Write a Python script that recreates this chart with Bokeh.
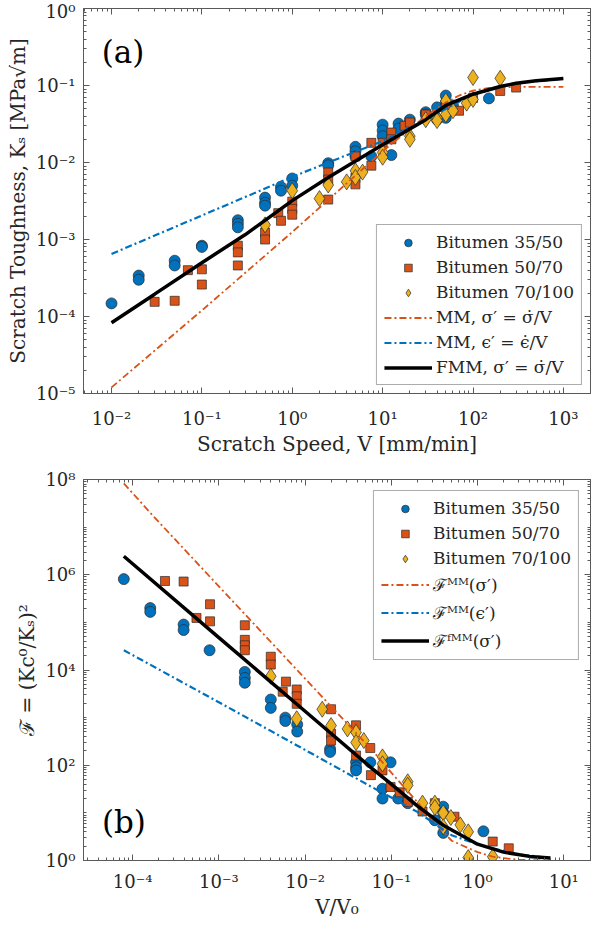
import json
from bokeh.plotting import figure
from bokeh.layouts import column
from bokeh.models import Range1d, LogAxis, FixedTicker, CustomJSTickFormatter, Label
from bokeh.embed import file_html
from bokeh.resources import INLINE

# ---------------- data: panel (a) ----------------
A_3550_X = [0.01, 0.02, 0.02, 0.05, 0.05, 0.1, 0.1, 0.25, 0.25, 0.25, 0.5, 0.5, 0.5, 0.75, 0.75,
            1, 1, 2.5, 2.5, 5, 5, 5, 7.5, 10, 10, 10, 12.5, 15, 15, 20, 30, 30, 40, 40, 50, 50, 50, 60, 150]
A_3550_Y = [1.48e-4, 3.4e-4, 3.0e-4, 5.3e-4, 4.6e-4, 8.3e-4, 8.0e-4, 1.78e-3, 1.6e-3, 1.44e-3, 3.5e-3, 3.0e-3,
            2.75e-3, 4.8e-3, 4.3e-3, 6.2e-3, 5.0e-3, 9.8e-3, 9.2e-3, 1.6e-2, 1.4e-2, 1.2e-2, 1.2e-2, 3.1e-2,
            2.6e-2, 2.2e-2, 1.25e-2, 3.2e-2, 2.75e-2, 3.6e-2, 4.5e-2, 4.2e-2, 5.2e-2, 3.6e-2, 7.4e-2, 6.0e-2,
            3.8e-2, 5.5e-2, 6.8e-2]
A_5070_X = [0.03, 0.05, 0.07, 0.1, 0.1, 0.25, 0.25, 0.25, 0.5, 0.5, 0.7, 0.75, 1, 1, 1, 2.5, 2.5, 2.5,
            5, 5, 5, 7.5, 7.5, 10, 12.5, 12.5, 17.5, 20, 30, 50, 70, 100, 200, 300]
A_5070_Y = [1.55e-4, 1.6e-4, 4.0e-4, 4.1e-4, 2.6e-4, 8.3e-4, 6.8e-4, 4.6e-4, 1.23e-3, 1.0e-3, 2.2e-3, 1.75e-3,
            3.1e-3, 2.5e-3, 2.1e-3, 7.4e-3, 6.0e-3, 3.3e-3, 1.2e-2, 6.3e-3, 5.2e-3, 1.8e-2, 9.1e-3, 1.8e-2,
            2.45e-2, 2.0e-2, 3.0e-2, 3.3e-2, 4.2e-2, 5.2e-2, 4.7e-2, 6.9e-2, 8.5e-2, 9.4e-2]
A_70100_X = [0.5, 1, 2, 2.5, 4, 5, 5, 6, 10, 10, 20, 20, 30, 40, 40, 50, 50, 60, 85, 100, 100, 200]
A_70100_Y = [1.55e-3, 4.3e-3, 3.4e-3, 5.1e-3, 5.6e-3, 7.8e-3, 6.4e-3, 7.5e-3, 1.35e-2, 1.17e-2, 2.2e-2, 2.0e-2,
             3.6e-2, 3.8e-2, 3.5e-2, 6.3e-2, 4.2e-2, 4.7e-2, 5.9e-2, 0.127, 6.6e-2, 0.124]

A_MMS_X = [0.01, 0.1, 1, 10, 30, 50, 70, 100, 150, 300, 1000]
A_MMS_Y = [1.2e-5, 1.2e-4, 1.25e-3, 1.4e-2, 4.0e-2, 6.0e-2, 7.4e-2, 8.6e-2, 9.3e-2, 9.6e-2, 9.6e-2]
A_MME_X = [0.01, 0.1, 1, 2.5, 10, 30, 100, 300, 1000]
A_MME_Y = [6.5e-4, 2.05e-3, 6.5e-3, 1.0e-2, 1.9e-2, 3.6e-2, 7.7e-2, 0.107, 0.123]
A_FMM_X = [0.01, 0.03, 0.1, 0.3, 1, 2.5, 10, 30, 50, 100, 200, 300, 500, 1000]
A_FMM_Y = [8.3e-5, 1.95e-4, 5.0e-4, 1.15e-3, 3.2e-3, 6.4e-3, 1.7e-2, 3.6e-2, 5.5e-2, 7.7e-2, 9.7e-2, 0.107,
           0.115, 0.123]

# ---------------- data: panel (b) ----------------
B_3550_X = [7.9e-5, 1.6e-4, 1.6e-4, 3.9e-4, 3.9e-4, 7.8e-4, 2e-3, 2e-3, 2e-3, 4e-3, 4e-3, 5.9e-3, 5.9e-3,
            8.1e-3, 8.1e-3, 1.95e-2, 1.95e-2, 3.9e-2, 3.9e-2, 3.9e-2, 5.7e-2, 7.9e-2, 7.9e-2, 9.8e-2, 0.12,
            0.155, 0.32, 0.40, 0.40, 0.40, 1.17]
B_3550_Y = [8.1e5, 2.0e5, 1.66e5, 9e4, 6.9e4, 2.6e4, 9.1e3, 6.8e3, 5.4e3, 2.4e3, 1.6e3, 1e3, 850, 720, 510,
            220, 190, 115, 91, 78, 115, 32, 20, 115, 20, 16, 7, 13.5, 10, 3.8, 4.1]
B_5070_X = [2.37e-4, 3.9e-4, 5.5e-4, 7.9e-4, 7.9e-4, 2e-3, 2e-3, 2e-3, 2e-3, 4e-3, 4e-3, 5.5e-3, 6e-3,
            8e-3, 8e-3, 8e-3, 2e-2, 2e-2, 2e-2, 3.9e-2, 3.9e-2, 5.7e-2, 5.8e-2, 7.9e-2, 9.8e-2, 0.125,
            0.155, 0.23, 0.32, 0.54, 1.5, 2.3]
B_5070_Y = [7.4e5, 7.2e5, 1.24e5, 2.4e5, 1.05e5, 8.7e4, 4.3e4, 3.3e4, 2.6e4, 1.9e4, 1.3e4, 3.5e3, 5.7e3,
            3.9e3, 2.8e3, 1.95e3, 1.5e3, 460, 330, 690, 160, 230, 62, 78, 35, 27, 17, 10.7, 16, 8.3, 2.5, 1.8]
B_70100_X = [4e-3, 8e-3, 1.58e-2, 2e-2, 3.1e-2, 3.9e-2, 3.9e-2, 4.8e-2, 7.9e-2, 7.9e-2, 0.155, 0.155,
             0.23, 0.32, 0.32, 0.40, 0.40, 0.49, 0.63, 0.78, 0.78, 1.5]
B_70100_Y = [7.4e3, 950, 1.5e3, 680, 580, 490, 300, 330, 150, 107, 45, 38, 16, 16, 13, 10, 5.1, 8, 5.6,
             4, 1.15, 1.2]

B_MMS_X = [7.9e-5, 1.6e-4, 1e-3, 1e-2, 6.1e-2, 0.1, 0.2, 0.3, 0.5, 1, 1.5, 3, 7]
B_MMS_Y = [8.3e7, 2e7, 5.7e5, 6.6e3, 200, 70, 17, 7, 2.6, 1.5, 1.2, 1.03, 1.0]
B_MME_X = [7.9e-5, 1e-3, 1e-2, 6.1e-2, 0.1, 0.2, 0.5, 1, 1.5, 3, 7]
B_MME_Y = [2.6e4, 2.1e3, 210, 34, 21, 10.5, 3.4, 2.2, 1.8, 1.35, 1.12]
B_FMM_X = [7.9e-5, 1e-3, 1e-2, 6e-2, 0.1, 0.2, 0.4, 1, 2, 4, 7]
B_FMM_Y = [2.45e6, 4.8e4, 1.36e3, 85, 40, 14, 5.5, 2.2, 1.5, 1.22, 1.13]

# ---------------- ticks ----------------
A_X_TICKS = [1e-2, 1e-1, 1e0, 1e1, 1e2, 1e3]
A_Y_TICKS = [1e-5, 1e-4, 1e-3, 1e-2, 1e-1, 1e0]
B_X_TICKS = [1e-4, 1e-3, 1e-2, 1e-1, 1e0, 1e1]
B_Y_TICKS = [1e0, 1e2, 1e4, 1e6, 1e8]

SERIES = ["Bitumen 35/50", "Bitumen 50/70", "Bitumen 70/100"]
A_LINES = ["MM, σ′ = σ̇/V", "MM, ϵ′ = ϵ̇/V", "FMM, σ′ = σ̇/V"]
B_LINES = ["ℱᴹᴹ(σ′)", "ℱᴹᴹ(ϵ′)", "ℱᶠᴹᴹ(σ′)"]

BLUE, ORANGE, YELLOW = "#0072BD", "#D95319", "#EDB120"
EDGE = "#2a2a2a"
AX = "#5a5a5a"
TXT = "#262626"
FONT = "DejaVu Serif"

SUP = {'-': '⁻', '0': '⁰', '1': '¹', '2': '²', '3': '³', '4': '⁴',
       '5': '⁵', '6': '⁶', '7': '⁷', '8': '⁸', '9': '⁹'}
FMT_CODE = ("const sup = " + json.dumps(SUP, ensure_ascii=False) + ";"
            "const e = Math.round(Math.log10(tick));"
            "return '10' + String(e).split('').map(c => sup[c]).join('');")


def minors(lo, hi, majors):
    out = []
    for e in range(lo, hi):
        for k in range(1, 10):
            if k == 1 and any(abs(m - 10.0 ** e) < 1e-12 * 10.0 ** e for m in majors):
                continue
            out.append(k * 10.0 ** e)
    if not any(abs(m - 10.0 ** hi) < 1e-12 * 10.0 ** hi for m in majors):
        out.append(10.0 ** hi)
    return out


def style_axis(ax, ticks, minor, show_labels):
    ax.ticker = FixedTicker(ticks=ticks, minor_ticks=minor)
    ax.axis_line_color = AX
    ax.major_tick_line_color = AX
    ax.minor_tick_line_color = AX
    ax.major_tick_in = 6
    ax.major_tick_out = 0
    ax.minor_tick_in = 3
    ax.minor_tick_out = 0
    if show_labels:
        ax.formatter = CustomJSTickFormatter(code=FMT_CODE)
        ax.major_label_text_font = FONT
        ax.major_label_text_font_size = "18px"
        ax.major_label_text_color = TXT
    else:
        ax.major_label_text_font_size = "0px"
        ax.major_label_standoff = 0
        ax.major_label_text_alpha = 0


def make_fig(xr, yr, h, top_b, bot_b, xt, xm, yt, ym, xlabel, ylabel, x_so, xl_so):
    p = figure(width=593, height=h, x_axis_type="log", y_axis_type="log",
               x_range=Range1d(*xr), y_range=Range1d(*yr),
               output_backend="svg", toolbar_location=None,
               min_border_left=83, min_border_right=3, min_border_top=top_b, min_border_bottom=bot_b,
               background_fill_color="white", border_fill_color="white", outline_line_color=AX)
    p.grid.visible = False
    bx = p.below[0]
    ly = p.left[0]
    style_axis(bx, xt, xm, True)
    style_axis(ly, yt, ym, True)
    bx.major_label_standoff = x_so
    ly.major_label_standoff = 8
    for ax, lab, so in ((bx, xlabel, xl_so), (ly, ylabel, 3)):
        ax.axis_label = lab
        ax.axis_label_text_font = FONT
        ax.axis_label_text_font_size = "20px"
        ax.axis_label_text_font_style = "normal"
        ax.axis_label_text_color = TXT
        ax.axis_label_standoff = so
    ta = LogAxis()
    style_axis(ta, xt, xm, False)
    p.add_layout(ta, "above")
    ra = LogAxis()
    style_axis(ra, yt, ym, False)
    p.add_layout(ra, "right")
    return p


def add_data(p, sets, lines, line_labels):
    markers = [("circle", 11, BLUE), ("square", 9, ORANGE), ("diamond", 16, YELLOW)]
    for (xs, ys), (mk, sz, col), lab in zip(sets, markers, SERIES):
        p.scatter(xs, ys, marker=mk, size=sz, fill_color=col, line_color=EDGE, line_width=0.7,
                  legend_label=lab)
    styles = [(ORANGE, 1.8, "7 3 2 3"), (BLUE, 2.2, "7 3 2 3"), ("black", 3.5, "solid")]
    for (xs, ys), (col, w, dash), lab in zip(lines, styles, line_labels):
        p.line(xs, ys, line_color=col, line_width=w, line_dash=dash, legend_label=lab)


def style_legend(p, loc, margin):
    lg = p.legend[0]
    lg.location = loc
    lg.margin = margin
    lg.padding = 7
    lg.spacing = 5
    lg.glyph_width = 48
    lg.glyph_height = 19
    lg.label_height = 19
    lg.label_standoff = 4
    lg.label_text_font = FONT
    lg.label_text_font_size = "17px"
    lg.label_text_color = TXT
    lg.border_line_color = AX
    lg.border_line_width = 1
    lg.background_fill_alpha = 1.0


p1 = make_fig((10 ** -2.31, 10 ** 3.3), (1e-5, 1e0), 461, 8, 68,
              A_X_TICKS, minors(-3, 3, A_X_TICKS), A_Y_TICKS, minors(-5, 0, A_Y_TICKS),
              "Scratch Speed, V [mm/min]", "Scratch Toughness, Kₛ [MPa√m]", 14, 0)
add_data(p1, [(A_3550_X, A_3550_Y), (A_5070_X, A_5070_Y), (A_70100_X, A_70100_Y)],
         [(A_MMS_X, A_MMS_Y), (A_MME_X, A_MME_Y), (A_FMM_X, A_FMM_Y)], A_LINES)
style_legend(p1, "bottom_right", 8)
p1.add_layout(Label(x=0.0078, y=0.27, text="(a)", text_font=FONT, text_font_size="31px",
                    text_baseline="middle", text_align="left", text_color="black"))

p2 = make_fig((10 ** -4.57, 10 ** 1.31), (1e0, 1e8), 460, 18, 57,
              B_X_TICKS, minors(-5, 1, B_X_TICKS), B_Y_TICKS, minors(0, 8, B_Y_TICKS),
              "V/V₀", "ℱ = (Kc⁰/Kₛ)²", 10, 0)
add_data(p2, [(B_3550_X, B_3550_Y), (B_5070_X, B_5070_Y), (B_70100_X, B_70100_Y)],
         [(B_MMS_X, B_MMS_Y), (B_MME_X, B_MME_Y), (B_FMM_X, B_FMM_Y)], B_LINES)
style_legend(p2, "top_right", 11)
p2.add_layout(Label(x=4.4e-5, y=6.5, text="(b)", text_font=FONT, text_font_size="31px",
                    text_baseline="middle", text_align="left", text_color="black"))

layout = column(p1, p2)
with open("out.html", "w", encoding="utf-8") as f:
    f.write(file_html(layout, INLINE))
